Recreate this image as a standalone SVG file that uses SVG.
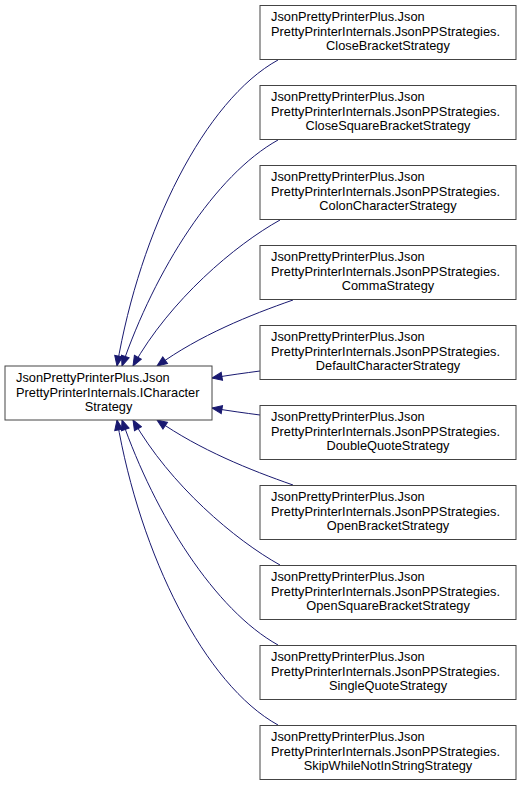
<svg xmlns="http://www.w3.org/2000/svg" width="521" height="787" viewBox="0 0 521 787">
<style>
  .box { fill: #ffffff; stroke: #444444; stroke-width: 1; }
  .t { font-family: "Liberation Sans", Arial, sans-serif; font-size: 12.8px; fill: #000000; }
  .c { text-anchor: middle; }
  .e { fill: none; stroke: #191970; stroke-width: 1; marker-end: url(#arr); }
</style>
<defs>
  <marker id="arr" markerUnits="userSpaceOnUse" markerWidth="12" markerHeight="10" refX="10" refY="4" orient="auto" viewBox="-1 -1 12 10">
    <path d="M0,0 L10,4 L0,8 z" fill="#191970" stroke="#191970" stroke-width="1"/>
  </marker>
</defs>
<rect x="0" y="0" width="521" height="787" fill="#ffffff"/>
<g id="connectors">
  <path class="e" d="M 278,60 C 205,100 140,230 117,366"/>
  <path class="e" d="M 278,140 C 215,175 155,270 122,366"/>
  <path class="e" d="M 280,220 C 235,245 170,300 133,366"/>
  <path class="e" d="M 293,300 C 250,315 200,335 157,366"/>
  <path class="e" d="M 260,371 C 245,373 230,375 212,378"/>
  <path class="e" d="M 260,415 C 245,413 230,411 212,408"/>
  <path class="e" d="M 293,485 C 250,470 200,450 157,420"/>
  <path class="e" d="M 280,565 C 235,540 170,485 133,420"/>
  <path class="e" d="M 278,645 C 215,610 155,515 122,420"/>
  <path class="e" d="M 278,725 C 205,685 140,555 117,420"/>
</g>
<g id="ICharacterStrategy">
  <rect class="box" x="5" y="366" width="207" height="54"/>
  <text class="t" x="16" y="382">JsonPrettyPrinterPlus.Json</text>
  <text class="t" x="16" y="397">PrettyPrinterInternals.ICharacter</text>
  <text class="t c" x="108.5" y="411">Strategy</text>
</g>
<g id="CloseBracketStrategy">
  <rect class="box" x="260" y="5.5" width="256" height="54"/>
  <text class="t" x="271" y="21">JsonPrettyPrinterPlus.Json</text>
  <text class="t" x="271" y="35.5">PrettyPrinterInternals.JsonPPStrategies.</text>
  <text class="t c" x="388" y="50">CloseBracketStrategy</text>
</g>
<g id="CloseSquareBracketStrategy">
  <rect class="box" x="260" y="85.5" width="256" height="54"/>
  <text class="t" x="271" y="101">JsonPrettyPrinterPlus.Json</text>
  <text class="t" x="271" y="115.5">PrettyPrinterInternals.JsonPPStrategies.</text>
  <text class="t c" x="388" y="130">CloseSquareBracketStrategy</text>
</g>
<g id="ColonCharacterStrategy">
  <rect class="box" x="260" y="165.5" width="256" height="54"/>
  <text class="t" x="271" y="181">JsonPrettyPrinterPlus.Json</text>
  <text class="t" x="271" y="195.5">PrettyPrinterInternals.JsonPPStrategies.</text>
  <text class="t c" x="388" y="210">ColonCharacterStrategy</text>
</g>
<g id="CommaStrategy">
  <rect class="box" x="260" y="245.5" width="256" height="54"/>
  <text class="t" x="271" y="261">JsonPrettyPrinterPlus.Json</text>
  <text class="t" x="271" y="275.5">PrettyPrinterInternals.JsonPPStrategies.</text>
  <text class="t c" x="388" y="290">CommaStrategy</text>
</g>
<g id="DefaultCharacterStrategy">
  <rect class="box" x="260" y="325.5" width="256" height="54"/>
  <text class="t" x="271" y="341">JsonPrettyPrinterPlus.Json</text>
  <text class="t" x="271" y="355.5">PrettyPrinterInternals.JsonPPStrategies.</text>
  <text class="t c" x="388" y="370">DefaultCharacterStrategy</text>
</g>
<g id="DoubleQuoteStrategy">
  <rect class="box" x="260" y="405.5" width="256" height="54"/>
  <text class="t" x="271" y="421">JsonPrettyPrinterPlus.Json</text>
  <text class="t" x="271" y="435.5">PrettyPrinterInternals.JsonPPStrategies.</text>
  <text class="t c" x="388" y="450">DoubleQuoteStrategy</text>
</g>
<g id="OpenBracketStrategy">
  <rect class="box" x="260" y="485.5" width="256" height="54"/>
  <text class="t" x="271" y="501">JsonPrettyPrinterPlus.Json</text>
  <text class="t" x="271" y="515.5">PrettyPrinterInternals.JsonPPStrategies.</text>
  <text class="t c" x="388" y="530">OpenBracketStrategy</text>
</g>
<g id="OpenSquareBracketStrategy">
  <rect class="box" x="260" y="565.5" width="256" height="54"/>
  <text class="t" x="271" y="581">JsonPrettyPrinterPlus.Json</text>
  <text class="t" x="271" y="595.5">PrettyPrinterInternals.JsonPPStrategies.</text>
  <text class="t c" x="388" y="610">OpenSquareBracketStrategy</text>
</g>
<g id="SingleQuoteStrategy">
  <rect class="box" x="260" y="645.5" width="256" height="54"/>
  <text class="t" x="271" y="661">JsonPrettyPrinterPlus.Json</text>
  <text class="t" x="271" y="675.5">PrettyPrinterInternals.JsonPPStrategies.</text>
  <text class="t c" x="388" y="690">SingleQuoteStrategy</text>
</g>
<g id="SkipWhileNotInStringStrategy">
  <rect class="box" x="260" y="725.5" width="256" height="54"/>
  <text class="t" x="271" y="741">JsonPrettyPrinterPlus.Json</text>
  <text class="t" x="271" y="755.5">PrettyPrinterInternals.JsonPPStrategies.</text>
  <text class="t c" x="388" y="770">SkipWhileNotInStringStrategy</text>
</g>
</svg>
